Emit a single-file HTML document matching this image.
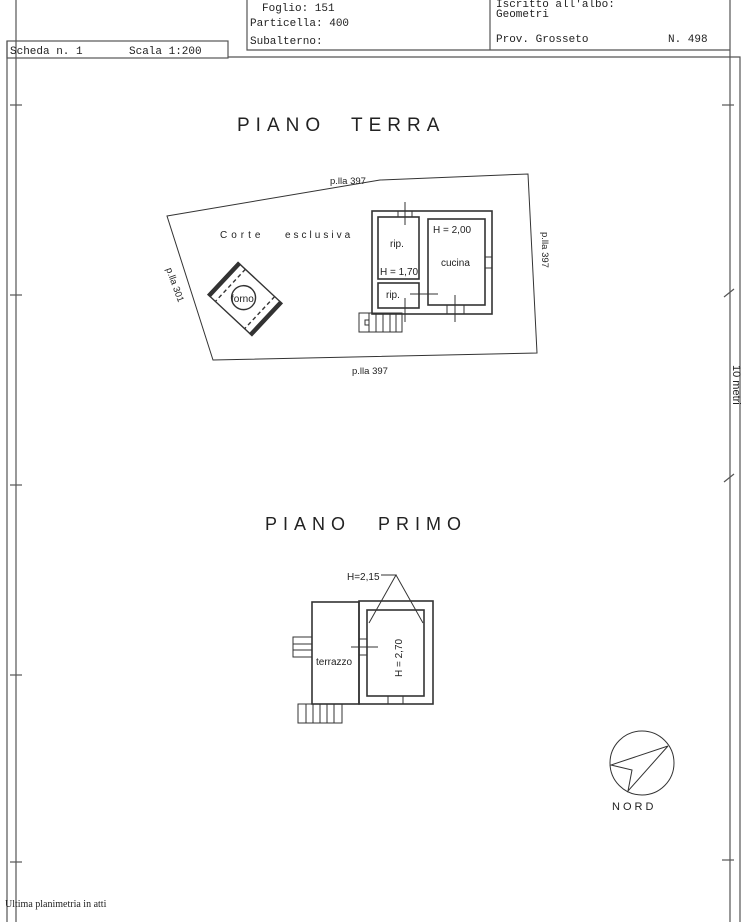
<!DOCTYPE html>
<html><head><style>
html,body{margin:0;padding:0;background:#fff;}
svg{display:block;}
.m{font-family:"Liberation Mono",monospace;font-size:11px;fill:#222;}
.s{font-family:"Liberation Sans",sans-serif;fill:#222;}
</style></head><body>
<svg width="745" height="922" viewBox="0 0 745 922" xmlns="http://www.w3.org/2000/svg">
<g stroke="#555" fill="none" stroke-width="1.2">
<rect x="7" y="41" width="221" height="17"/>
<polyline points="247,0 247,50 730,50"/>
<line x1="490" y1="0" x2="490" y2="50"/>
<line x1="7" y1="41" x2="7" y2="922"/>
<line x1="16" y1="0" x2="16" y2="922"/>
<line x1="730" y1="0" x2="730" y2="922"/>
<polyline points="228,57 740,57 740,922"/>
<line x1="10" y1="105" x2="22" y2="105"/><line x1="10" y1="295" x2="22" y2="295"/>
<line x1="10" y1="485" x2="22" y2="485"/><line x1="10" y1="675" x2="22" y2="675"/>
<line x1="10" y1="862" x2="22" y2="862"/>
<line x1="722" y1="105" x2="734" y2="105"/><line x1="722" y1="860" x2="734" y2="860"/>
<line x1="724" y1="297" x2="734" y2="289"/><line x1="724" y1="482" x2="734" y2="474"/>
</g>
<text class="m" x="262" y="11">Foglio: 151</text>
<text class="m" x="250" y="26">Particella: 400</text>
<text class="m" x="250" y="44">Subalterno:</text>
<text class="m" x="496" y="7">Iscritto all'albo:</text>
<text class="m" x="496" y="17">Geometri</text>
<text class="m" x="496" y="42">Prov. Grosseto</text>
<text class="m" x="668" y="42">N.  498</text>
<text class="m" x="10" y="54">Scheda n. 1</text>
<text class="m" x="129" y="54">Scala 1:200</text>
<text class="s" font-size="11" transform="translate(733,365) rotate(90)">10 metri</text>

<text class="s" x="237" y="131" font-size="19" letter-spacing="6">PIANO</text>
<text class="s" x="351" y="131" font-size="19" letter-spacing="6">TERRA</text>
<text class="s" x="265" y="530" font-size="18" letter-spacing="6">PIANO</text>
<text class="s" x="378" y="530" font-size="18" letter-spacing="6">PRIMO</text>

<g stroke="#333" fill="none" stroke-width="1">
<polygon points="167,216 380,180 528,174 537,353 213,360"/>
</g>
<text class="s" x="330" y="184" font-size="9.5">p.lla  397</text>
<text class="s" x="352" y="374" font-size="9.5">p.lla  397</text>
<text class="s" x="220" y="238" font-size="10" letter-spacing="4">Corte</text>
<text class="s" x="285" y="238" font-size="10" letter-spacing="3">esclusiva</text>
<text class="s" font-size="9.5" transform="translate(542,232) rotate(90)">p.lla  397</text>
<text class="s" font-size="9.5" transform="translate(166,269) rotate(70)">p.lla  301</text>

<g stroke="#333" fill="none" stroke-width="1.6">
<rect x="372" y="211" width="120" height="103"/>
<rect x="378" y="217" width="41" height="62"/>
<rect x="378" y="283" width="41" height="25"/>
<rect x="428" y="219" width="57" height="86"/>
</g>
<g stroke="#333" fill="none" stroke-width="1">
<line x1="405" y1="202" x2="405" y2="225"/><line x1="398" y1="211" x2="398" y2="217"/><line x1="412" y1="211" x2="412" y2="217"/>
<line x1="410" y1="294" x2="438" y2="294"/><line x1="405" y1="298" x2="405" y2="322"/>
<line x1="455" y1="295" x2="455" y2="322"/><line x1="447" y1="305" x2="447" y2="314"/><line x1="464" y1="305" x2="464" y2="314"/>
<line x1="485" y1="257" x2="492" y2="257"/><line x1="485" y1="268" x2="492" y2="268"/>
<rect x="359" y="313" width="43" height="19"/>
<line x1="369" y1="313" x2="369" y2="332"/><line x1="376" y1="313" x2="376" y2="332"/><line x1="383" y1="313" x2="383" y2="332"/><line x1="390" y1="313" x2="390" y2="332"/><line x1="396" y1="313" x2="396" y2="332"/>
<rect x="365" y="320" width="4" height="5"/>
</g>
<text class="s" x="390" y="247" font-size="10">rip.</text>
<text class="s" x="380" y="275" font-size="10">H = 1,70</text>
<text class="s" x="386" y="298" font-size="10">rip.</text>
<text class="s" x="433" y="233" font-size="10">H = 2,00</text>
<text class="s" x="441" y="266" font-size="10">cucina</text>

<g transform="translate(245,299) rotate(43)" stroke="#333" fill="none" stroke-width="1.4">
<rect x="-30" y="-22" width="60" height="44"/>
<rect x="-30" y="-22" width="3" height="44" fill="#333"/>
<rect x="27" y="-22" width="3" height="44" fill="#333"/>
<line x1="-20" y1="-22" x2="-20" y2="22" stroke-dasharray="4,3"/>
<line x1="20" y1="-22" x2="20" y2="22" stroke-dasharray="4,3"/>
<circle cx="-2" cy="0" r="12"/>
</g>
<text class="s" x="231" y="302" font-size="10">forno</text>

<g stroke="#333" fill="none" stroke-width="1.6">
<rect x="312" y="602" width="47" height="102"/>
<rect x="359" y="601" width="74" height="103"/>
<rect x="367" y="610" width="57" height="86"/>
</g>
<g stroke="#333" fill="none" stroke-width="1">
<line x1="351" y1="647" x2="378" y2="647"/><line x1="359" y1="639" x2="367" y2="639"/><line x1="359" y1="655" x2="367" y2="655"/>
<line x1="388" y1="696" x2="388" y2="704"/><line x1="403" y1="696" x2="403" y2="704"/>
<polyline points="381,575 396,575 369,623"/><line x1="396" y1="575" x2="423" y2="623"/>
<rect x="293" y="637" width="19" height="20"/><line x1="293" y1="644" x2="312" y2="644"/><line x1="293" y1="650" x2="312" y2="650"/>
<rect x="298" y="704" width="44" height="19"/>
<line x1="306" y1="704" x2="306" y2="723"/><line x1="313" y1="704" x2="313" y2="723"/><line x1="320" y1="704" x2="320" y2="723"/><line x1="327" y1="704" x2="327" y2="723"/><line x1="334" y1="704" x2="334" y2="723"/>
</g>
<text class="s" x="347" y="580" font-size="10">H=2,15</text>
<text class="s" x="316" y="665" font-size="10">terrazzo</text>
<text class="s" font-size="10" transform="translate(402,677) rotate(-90)">H = 2,70</text>

<g stroke="#333" fill="none" stroke-width="1">
<circle cx="642" cy="763" r="32"/>
<polyline points="668,746 611,765 632,770 628,791 668,746"/>
</g>
<text class="s" x="612" y="810" font-size="11" letter-spacing="3">NORD</text>

<text x="5" y="907" font-family="Liberation Serif,serif" font-size="10" fill="#222">Ultima planimetria in atti</text>
</svg>
</body></html>
